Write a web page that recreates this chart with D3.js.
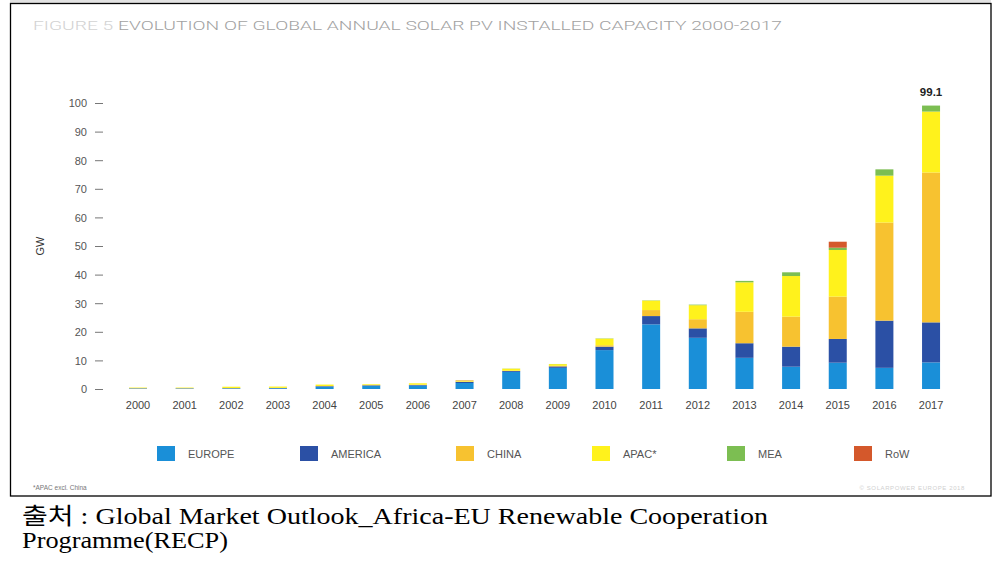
<!DOCTYPE html>
<html><head><meta charset="utf-8">
<script src="https://cdn.jsdelivr.net/npm/d3@7"></script>
<style>body{margin:0;background:#fff}svg{display:block}</style>
</head><body>
<svg id="c" width="999" height="566"></svg>
<script>
const years = ["2000","2001","2002","2003","2004","2005","2006","2007","2008","2009","2010","2011","2012","2013","2014","2015","2016","2017"];
const europe  = [0.15,0.15,0.2,0.25,0.8,1.1,1.2,2.1,6.0,7.4,13.6,22.6,17.9,10.9,7.8,9.2,7.4,9.3];
const america = [0.1,0.1,0.1,0.1,0.2,0.2,0.2,0.4,0.3,0.5,1.2,2.9,3.3,5.1,7.0,8.3,16.5,14.0];
const china   = [0.05,0.05,0.05,0.05,0.05,0.05,0.1,0.1,0.1,0.2,0.5,2.1,3.2,11.0,10.5,14.8,34.3,52.4];
const apac    = [0.2,0.2,0.45,0.45,0.5,0.3,0.5,0.35,0.7,0.6,2.3,3.3,4.9,10.3,14.2,16.3,16.4,21.3];
const mea     = [0,0,0,0,0,0,0,0.02,0.05,0.05,0.1,0.1,0.2,0.5,1.3,0.8,2.2,2.1];
const row     = [0,0,0,0,0,0,0,0.1,0,0,0,0,0,0,0,2.1,0,0];
const seriesNames = ["EUROPE","AMERICA","CHINA","APAC*","MEA","RoW"];
const seriesColors = ["#1a8fd8","#2b50a5","#f7c230","#fff21c","#7cbe52","#d4582b"];
const yTicks = [0,10,20,30,40,50,60,70,80,90,100];
const totalLabel = {year:"2017", text:"99.1", value:99.1};

const svg = d3.select("#c");

// frame
svg.append("rect").attr("x",10).attr("y",0).attr("width",981).attr("height",4).attr("fill","#e2e2e2");
svg.append("rect").attr("x",10.5).attr("y",3.5).attr("width",980.5).attr("height",492.5)
  .attr("fill","none").attr("stroke","#000").attr("stroke-width",1.3);

// title
const title = svg.append("text").attr("x",33).attr("y",30)
  .attr("font-family","Roboto, 'DejaVu Sans', sans-serif").attr("font-size",13.5).attr("font-weight",300)
  .attr("textLength",749).attr("lengthAdjust","spacingAndGlyphs");
title.append("tspan").attr("fill","#d2d2d2").text("FIGURE 5 ");
title.append("tspan").attr("fill","#a2a2a2").text("EVOLUTION OF GLOBAL ANNUAL SOLAR PV INSTALLED CAPACITY 2000-2017");

const x = d3.scaleBand().domain(years).range([114.675,954.375]).paddingInner(0.614).paddingOuter(0.307);
const y = d3.scaleLinear().domain([0,100]).range([389,103]);

// data table
const table = years.map((yr,i)=>({year:yr, EUROPE:europe[i], AMERICA:america[i], CHINA:china[i], "APAC*":apac[i], MEA:mea[i], RoW:row[i]}));
const stack = d3.stack().keys(seriesNames)(table);

svg.append("g").selectAll("g").data(stack).join("g")
  .attr("fill",(d,i)=>seriesColors[i])
  .selectAll("rect").data(d=>d).join("rect")
  .attr("x",d=>x(d.data.year))
  .attr("width",x.bandwidth())
  .attr("y",d=>y(d[1]))
  .attr("height",d=>Math.max(0,y(d[0])-y(d[1])));

// y axis
const yAxis = d3.axisLeft(y).tickValues(yTicks).tickSize(0).tickPadding(0);
const gy = svg.append("g").attr("transform","translate(87,0)").call(yAxis);
gy.select(".domain").remove();
gy.selectAll("text").attr("font-family","'Liberation Sans', Arial, sans-serif").attr("font-size",11).attr("fill","#555").attr("dy","0.35em");
gy.selectAll(".tick").append("line").attr("x1",8).attr("x2",16).attr("stroke","#777").attr("stroke-width",1);

svg.append("text").attr("transform","translate(44,246) rotate(-90)").attr("text-anchor","middle")
  .attr("font-family","'Liberation Sans', Arial, sans-serif").attr("font-size",11).attr("fill","#333").text("GW");

// x axis
const xAxis = d3.axisBottom(x).tickSize(0).tickPadding(0);
const gx = svg.append("g").attr("transform","translate(0,400)").call(xAxis);
gx.select(".domain").remove();
gx.selectAll("text").attr("font-family","'Liberation Sans', Arial, sans-serif").attr("font-size",11).attr("fill","#444").attr("dy","0.8em");

// total label
svg.append("text").attr("x",x(totalLabel.year)+x.bandwidth()/2).attr("y",y(totalLabel.value)-10)
  .attr("text-anchor","middle").attr("font-family","'Liberation Sans', Arial, sans-serif")
  .attr("font-size",11.5).attr("font-weight","bold").attr("fill","#222").text(totalLabel.text);

// legend
const legX = [157,300,456,592,727,854];
const leg = svg.append("g").selectAll("g").data(seriesNames).join("g")
  .attr("transform",(d,i)=>`translate(${legX[i]},446)`);
leg.append("rect").attr("width",18).attr("height",15).attr("fill",(d,i)=>seriesColors[i]);
leg.append("text").attr("x",31).attr("y",11.5).attr("font-family","'Liberation Sans', Arial, sans-serif")
  .attr("font-size",11).attr("fill","#555").text(d=>d);

// footnotes
svg.append("text").attr("x",33).attr("y",490).attr("font-family","'Liberation Sans', Arial, sans-serif")
  .attr("font-size",6.5).attr("fill","#777").text("*APAC excl. China");
svg.append("text").attr("x",965).attr("y",490).attr("text-anchor","end").attr("font-family","'Liberation Sans', Arial, sans-serif")
  .attr("font-size",6).attr("fill","#d0d0d0").attr("letter-spacing",0.6).text("© SOLARPOWER EUROPE 2018");

// source
svg.append("text").attr("x",22).attr("y",524).attr("font-family","'Liberation Serif', 'Noto Sans CJK KR', serif")
  .attr("font-size",22.5).attr("fill","#000").attr("textLength",746).attr("lengthAdjust","spacingAndGlyphs")
  .text("출처 : Global Market Outlook_Africa-EU Renewable Cooperation");
svg.append("text").attr("x",22).attr("y",548).attr("font-family","'Liberation Serif', 'Noto Sans CJK KR', serif")
  .attr("font-size",22.5).attr("fill","#000").attr("textLength",206).attr("lengthAdjust","spacingAndGlyphs")
  .text("Programme(RECP)");
</script>
</body></html>
